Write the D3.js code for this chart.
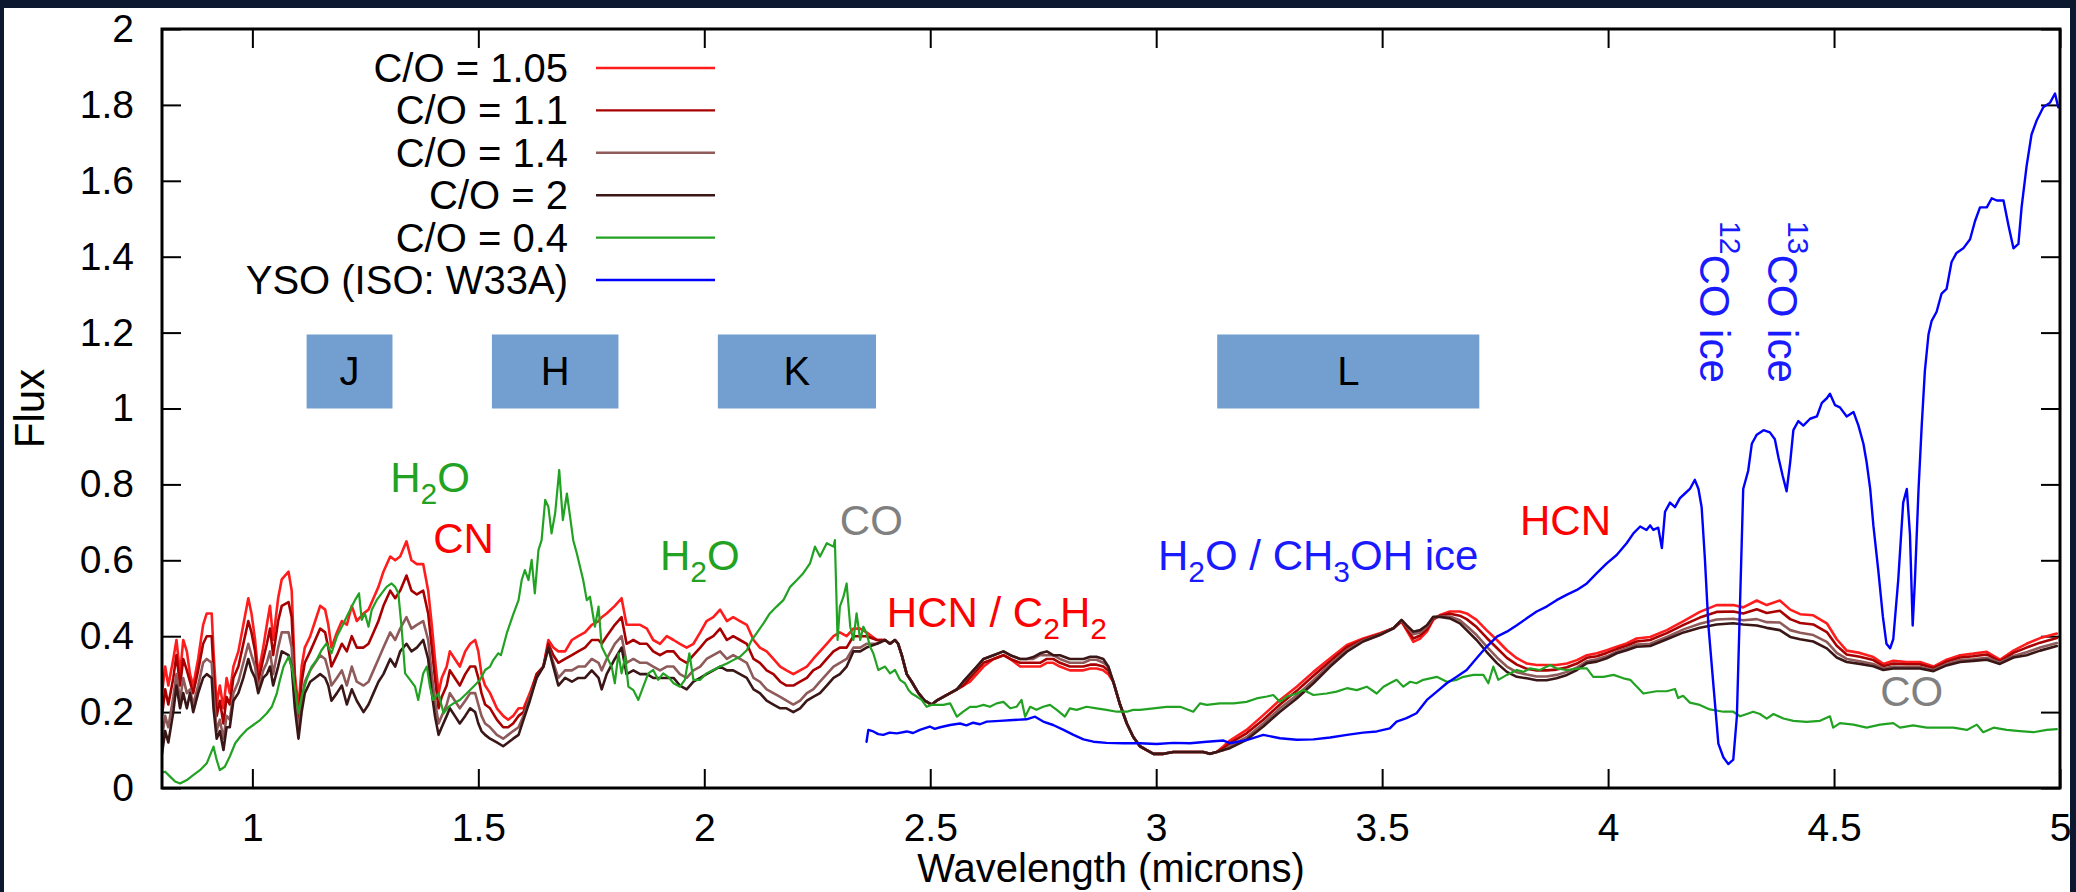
<!DOCTYPE html>
<html><head><meta charset="utf-8">
<script src="https://cdn.jsdelivr.net/npm/d3@7"></script>
<style>
html,body{margin:0;padding:0;background:#fff;}
svg{display:block;}
text{font-family:"Liberation Sans",Arial,Helvetica,sans-serif;}
</style></head><body>
<svg id="chart" width="2076" height="892"></svg>
<script>
// ---------------- DATA ----------------
const modelWave = [
0.80,0.807,0.814,0.825,0.832,0.84,0.847,0.855,0.862,0.869,0.88,0.891,0.899,0.91,0.914,0.921,0.928,0.936,0.943,0.95,0.958,0.969,0.98,0.991,0.998,1.006,1.013,1.024,1.032,1.039,1.046,1.057,1.065,1.08,1.087,1.094,1.102,1.109,1.116,1.128,1.139,1.15,1.161,1.168,1.175,1.187,1.198,1.209,1.22,1.231,1.246,1.257,1.268,1.279,1.29,1.305,1.316,1.327,1.341,1.352,1.364,1.378,1.389,1.397,1.404,1.412,1.419,1.43,1.437,1.448,1.459,1.471,1.482,1.493,1.5,1.507,1.515,1.526,1.541,1.555,1.566,1.577,1.589,
1.600,1.614,1.629,1.644,1.655,1.666,1.677,1.692,1.707,1.721,1.736,1.751,1.766,1.773,1.784,1.802,1.817,1.828,1.843,1.858,1.873,1.887,1.902,1.917,1.932,1.946,1.961,1.976,1.991,2.005,2.020,2.035,2.050,2.064,2.079,2.094,2.109,2.123,2.138,2.153,2.168,2.182,2.197,2.212,2.227,2.241,2.256,2.271,2.286,2.300,2.315,2.330,2.345,2.359,2.382,
2.400,2.411,2.422,2.429,2.437,2.448,2.459,2.474,2.488,2.503,2.514,2.529,2.544,2.559,2.573,2.588,2.603,2.618,2.640,2.662,2.677,2.699,2.713,2.728,2.743,2.758,2.772,2.787,2.809,2.824,2.839,2.854,2.868,2.883,2.894,2.905,2.920,2.935,2.949,2.964,2.979,2.994,3.016,3.038,3.060,3.082,3.104,3.119,3.134,3.149,3.163,
3.200,3.237,3.274,3.311,3.348,3.385,3.422,3.458,3.495,3.525,3.543,3.554,3.569,3.584,3.599,3.613,3.628,3.650,3.672,3.687,3.709,3.731,3.754,3.776,3.798,3.820,3.842,3.864,3.886,3.909,3.931,3.953,3.975,3.997,4.019,4.041,4.063,
4.093,4.130,4.167,4.203,4.240,4.277,4.299,4.329,4.351,4.380,4.403,4.425,4.454,4.484,4.506,4.528,4.557,4.587,4.609,4.631,4.661,4.690,4.720,4.749,4.779,4.808,4.838,4.867,4.897,4.926,4.956,4.993
];

const fluxCO105 = [
0.25,0.32,0.27,0.34,0.39,0.30,0.39,0.36,0.30,0.27, 0.34,0.43,0.46,0.46,0.36,0.22,0.27,0.21,0.29,0.25, 0.32,0.36,0.43,0.50,0.46,0.39,0.30,0.37,0.43,0.48, 0.39,0.50,0.55,0.57,0.52,0.30,0.21,0.32,0.37,0.40, 0.44,0.48,0.47,0.43,0.37,0.41,0.44,0.43,0.48,0.44, 0.46,0.47,0.50,0.53,0.57,0.61,0.60,0.61,0.65,0.60, 0.59,0.59,0.52,0.43,0.34,0.25,0.29,0.32,0.36,0.34, 0.32,0.36,0.38,0.39,0.36,0.30,0.27,0.25,0.21,0.19, 0.18,0.19,0.21,
0.21,0.25,0.30,0.32,0.39,0.37,0.36,0.36,0.39,0.40, 0.41,0.43,0.44,0.45,0.46,0.48,0.50,0.43,0.43,0.43, 0.42,0.39,0.38,0.40,0.39,0.38,0.37,0.38,0.41,0.44, 0.45,0.47,0.44,0.45,0.44,0.43,0.39,0.37,0.36,0.34, 0.32,0.31,0.30,0.31,0.32,0.34,0.36,0.38,0.40,0.41, 0.40,0.42,0.42,0.41,0.39,
0.39,0.38,0.39,0.38,0.35,0.30,0.28,0.25,0.23,0.22, 0.23,0.24,0.25,0.26,0.27,0.28,0.30,0.32,0.34,0.35, 0.34,0.32,0.32,0.32,0.32,0.33,0.33,0.32,0.31,0.31, 0.31,0.315,0.315,0.31,0.30,0.28,0.22,0.17,0.135,0.11, 0.10,0.09,0.09,0.095,0.095,0.095,0.095,0.09,0.095,0.11, 0.125,
0.153,0.192,0.232,0.267,0.306,0.342,0.377,0.394,0.408,0.421, 0.438,0.416,0.385,0.394,0.412,0.443,0.456,0.465,0.465,0.460, 0.443,0.416,0.390,0.363,0.342,0.328,0.324,0.324,0.324,0.328, 0.337,0.350,0.355,0.363,0.372,0.381,0.394,
0.398,0.416,0.44,0.464,0.482,0.482,0.476,0.494,0.482,0.494, 0.47,0.458,0.455,0.434,0.392,0.362,0.356,0.345,0.327,0.335, 0.332,0.332,0.32,0.338,0.35,0.354,0.359,0.338,0.362,0.38, 0.395,0.407
];

const fluxCO11 = [
0.19,0.26,0.22,0.29,0.35,0.27,0.34,0.31,0.28,0.25, 0.31,0.38,0.40,0.40,0.31,0.19,0.23,0.17,0.24,0.22, 0.29,0.32,0.38,0.44,0.41,0.36,0.28,0.34,0.38,0.42, 0.35,0.44,0.48,0.49,0.45,0.27,0.18,0.28,0.33,0.36, 0.39,0.42,0.41,0.37,0.32,0.35,0.38,0.36,0.40,0.37, 0.37,0.38,0.41,0.44,0.48,0.52,0.50,0.52,0.56,0.52, 0.51,0.52,0.46,0.37,0.29,0.21,0.24,0.27,0.31,0.29, 0.27,0.30,0.32,0.32,0.29,0.25,0.22,0.21,0.18,0.16, 0.16,0.17,0.19,
0.20,0.24,0.30,0.32,0.38,0.35,0.33,0.34,0.35,0.36, 0.37,0.39,0.39,0.38,0.40,0.43,0.45,0.38,0.39,0.38, 0.38,0.36,0.35,0.36,0.36,0.34,0.33,0.35,0.37,0.39, 0.40,0.42,0.39,0.40,0.39,0.38,0.34,0.33,0.31,0.30, 0.28,0.27,0.27,0.28,0.29,0.31,0.32,0.34,0.36,0.37, 0.37,0.40,0.40,0.40,0.39,
0.39,0.38,0.39,0.38,0.35,0.30,0.28,0.25,0.23,0.22, 0.23,0.24,0.25,0.26,0.27,0.29,0.31,0.33,0.34,0.35, 0.34,0.33,0.33,0.33,0.33,0.34,0.34,0.33,0.32,0.32, 0.32,0.325,0.325,0.32,0.31,0.28,0.22,0.17,0.135,0.11, 0.10,0.09,0.09,0.095,0.095,0.095,0.095,0.09,0.095,0.105, 0.118,
0.144,0.18,0.22,0.256,0.296,0.334,0.371,0.391,0.406,0.421, 0.44,0.42,0.394,0.402,0.418,0.446,0.454,0.459,0.454,0.445, 0.424,0.396,0.369,0.343,0.325,0.314,0.31,0.31,0.312,0.318, 0.328,0.343,0.347,0.356,0.366,0.375,0.386,
0.39,0.408,0.43,0.449,0.464,0.465,0.46,0.471,0.461,0.467, 0.445,0.435,0.431,0.411,0.375,0.352,0.346,0.337,0.321,0.328, 0.326,0.326,0.316,0.333,0.344,0.347,0.352,0.334,0.356,0.37, 0.383,0.395
];

const fluxCO14 = [
0.13,0.19,0.16,0.24,0.30,0.23,0.29,0.25,0.26,0.22, 0.27,0.33,0.34,0.33,0.25,0.15,0.18,0.13,0.19,0.18, 0.25,0.28,0.33,0.38,0.35,0.32,0.26,0.31,0.33,0.36, 0.30,0.37,0.41,0.41,0.37,0.23,0.15,0.23,0.28,0.31, 0.33,0.35,0.34,0.31,0.27,0.29,0.31,0.27,0.32,0.28, 0.27,0.28,0.31,0.34,0.37,0.41,0.39,0.42,0.45,0.42, 0.43,0.44,0.39,0.30,0.23,0.17,0.19,0.22,0.25,0.23, 0.21,0.23,0.25,0.25,0.22,0.19,0.17,0.16,0.14,0.13, 0.14,0.15,0.16,
0.19,0.24,0.29,0.32,0.37,0.33,0.29,0.31,0.31,0.32, 0.32,0.34,0.33,0.31,0.34,0.38,0.40,0.33,0.34,0.33, 0.33,0.32,0.31,0.32,0.32,0.30,0.29,0.31,0.32,0.34, 0.35,0.36,0.34,0.35,0.34,0.33,0.29,0.28,0.26,0.25, 0.24,0.23,0.22,0.23,0.25,0.26,0.28,0.30,0.32,0.33, 0.34,0.37,0.37,0.38,0.38,
0.39,0.38,0.39,0.38,0.35,0.30,0.28,0.25,0.23,0.22, 0.23,0.24,0.25,0.26,0.28,0.30,0.32,0.34,0.35,0.36, 0.35,0.34,0.34,0.34,0.35,0.35,0.35,0.34,0.33,0.33, 0.33,0.338,0.338,0.33,0.32,0.28,0.22,0.17,0.135,0.11, 0.10,0.09,0.09,0.095,0.095,0.095,0.095,0.09,0.095,0.10, 0.11,
0.134,0.17,0.21,0.244,0.284,0.326,0.364,0.388,0.404,0.421, 0.442,0.426,0.405,0.41,0.425,0.449,0.452,0.452,0.442,0.427, 0.403,0.373,0.344,0.32,0.305,0.299,0.294,0.294,0.298,0.306, 0.318,0.334,0.339,0.347,0.359,0.368,0.378,
0.38,0.398,0.418,0.433,0.444,0.446,0.442,0.445,0.437,0.436, 0.416,0.409,0.403,0.385,0.356,0.34,0.334,0.327,0.315,0.32, 0.319,0.319,0.311,0.327,0.337,0.339,0.343,0.33,0.348,0.358, 0.37,0.382
];

const fluxCO2 = [
0.09,0.15,0.12,0.20,0.27,0.21,0.25,0.21,0.25,0.20, 0.25,0.29,0.30,0.29,0.21,0.13,0.15,0.10,0.16,0.16, 0.23,0.25,0.29,0.34,0.31,0.29,0.25,0.29,0.30,0.32, 0.27,0.32,0.36,0.35,0.32,0.21,0.13,0.20,0.25,0.28, 0.29,0.30,0.29,0.27,0.23,0.25,0.27,0.22,0.26,0.23, 0.20,0.22,0.25,0.28,0.30,0.34,0.32,0.36,0.38,0.36, 0.37,0.39,0.34,0.25,0.19,0.14,0.16,0.19,0.21,0.19, 0.17,0.19,0.21,0.20,0.17,0.15,0.14,0.13,0.12,0.11, 0.12,0.13,0.14,
0.18,0.23,0.29,0.32,0.37,0.32,0.27,0.29,0.28,0.29, 0.29,0.31,0.29,0.26,0.30,0.34,0.37,0.30,0.31,0.30, 0.30,0.29,0.29,0.29,0.29,0.27,0.26,0.28,0.29,0.30, 0.31,0.32,0.31,0.31,0.30,0.29,0.26,0.25,0.23,0.22, 0.21,0.21,0.20,0.21,0.23,0.24,0.25,0.27,0.29,0.30, 0.32,0.36,0.36,0.37,0.38,
0.39,0.38,0.39,0.38,0.35,0.30,0.28,0.25,0.23,0.22, 0.23,0.24,0.25,0.26,0.28,0.30,0.32,0.34,0.35,0.36, 0.35,0.34,0.34,0.345,0.355,0.36,0.35,0.35,0.34,0.34, 0.34,0.346,0.346,0.34,0.32,0.28,0.22,0.17,0.135,0.11, 0.10,0.09,0.09,0.095,0.095,0.095,0.095,0.09,0.095,0.10, 0.105,
0.127,0.162,0.201,0.236,0.276,0.320,0.359,0.386,0.403,0.421, 0.443,0.429,0.412,0.416,0.429,0.451,0.451,0.447,0.434,0.416, 0.390,0.359,0.329,0.306,0.293,0.289,0.284,0.284,0.289,0.298, 0.311,0.329,0.333,0.342,0.355,0.363,0.372,
0.374,0.392,0.41,0.422,0.431,0.434,0.431,0.428,0.422,0.416, 0.398,0.392,0.386,0.368,0.344,0.332,0.327,0.321,0.311,0.315, 0.315,0.315,0.308,0.323,0.332,0.335,0.338,0.327,0.344,0.35, 0.362,0.374
];

// C/O = 0.4 model: [wavelength, flux]
const spectrumCO04 = [
[0.796,0.039],[0.807,0.043],[0.818,0.030],[0.829,0.017],[0.840,0.012],[0.855,0.021],[0.869,0.034],[0.884,0.047],[0.899,0.065],[0.914,0.109],[0.921,0.074],[0.928,0.047],[0.939,0.056],[0.950,0.083],[0.962,0.118],[0.973,0.135],[0.987,0.153],[1.002,0.166],[1.017,0.179],[1.032,0.197],[1.043,0.214],[1.054,0.249],[1.061,0.285],[1.069,0.320],[1.080,0.346],[1.087,0.320],[1.094,0.267],[1.102,0.197],[1.109,0.241],[1.120,0.285],[1.131,0.320],[1.142,0.337],[1.153,0.363],[1.164,0.381],[1.175,0.355],[1.187,0.399],[1.198,0.425],[1.209,0.452],[1.220,0.478],[1.227,0.495],[1.236,0.513],[1.242,0.443],[1.249,0.460],[1.257,0.425],[1.264,0.469],[1.275,0.495],[1.286,0.513],[1.297,0.530],[1.308,0.539],[1.316,0.530],[1.323,0.513],[1.330,0.425],[1.338,0.302],[1.349,0.285],[1.360,0.267],[1.367,0.232],[1.378,0.302],[1.386,0.320],[1.393,0.267],[1.400,0.232],[1.412,0.249],[1.423,0.197],[1.434,0.214],[1.445,0.223],[1.459,0.232],[1.474,0.249],[1.489,0.267],[1.504,0.285],[1.515,0.311],[1.526,0.320],[1.533,0.337],[1.544,0.355],[1.550,0.350],
[1.563,0.408],[1.578,0.460],[1.589,0.495],[1.596,0.548],[1.603,0.574],[1.611,0.548],[1.618,0.601],[1.625,0.513],[1.633,0.627],[1.640,0.653],[1.648,0.759],[1.655,0.741],[1.662,0.671],[1.670,0.724],[1.679,0.838],[1.687,0.706],[1.696,0.776],[1.703,0.715],[1.710,0.653],[1.718,0.618],[1.725,0.583],[1.732,0.548],[1.740,0.495],[1.747,0.504],[1.758,0.425],[1.766,0.478],[1.773,0.372],[1.784,0.346],[1.795,0.320],[1.802,0.276],[1.810,0.355],[1.817,0.302],[1.825,0.346],[1.832,0.267],[1.843,0.258],[1.854,0.232],[1.865,0.267],[1.876,0.302],[1.887,0.311],[1.898,0.285],[1.909,0.302],[1.920,0.293],[1.932,0.276],[1.946,0.267],[1.957,0.285],[1.967,0.355],[1.976,0.285],[1.991,0.285],[2.005,0.302],[2.020,0.311],[2.035,0.320],[2.050,0.328],[2.064,0.337],[2.079,0.346],[2.094,0.363],[2.105,0.390],[2.116,0.408],[2.131,0.434],[2.145,0.460],[2.160,0.478],[2.175,0.495],[2.190,0.530],[2.205,0.548],[2.219,0.566],[2.234,0.592],[2.245,0.636],[2.256,0.610],[2.271,0.645],[2.286,0.636],[2.289,0.653],[2.295,0.390],[2.300,0.478],[2.308,0.504],[2.315,0.539],[2.323,0.425],[2.330,0.390],[2.337,0.460],[2.345,0.390],[2.352,0.425],[2.359,0.408],[2.367,0.372],[2.374,0.355],[2.385,0.311],
[2.400,0.320],[2.411,0.302],[2.422,0.311],[2.433,0.285],[2.444,0.276],[2.452,0.258],[2.459,0.249],[2.470,0.241],[2.481,0.232],[2.492,0.214],[2.503,0.219],[2.514,0.219],[2.529,0.219],[2.544,0.223],[2.559,0.188],[2.573,0.201],[2.588,0.214],[2.603,0.214],[2.618,0.219],[2.632,0.214],[2.647,0.223],[2.662,0.227],[2.677,0.210],[2.691,0.214],[2.702,0.232],[2.710,0.188],[2.721,0.214],[2.735,0.206],[2.750,0.214],[2.765,0.219],[2.780,0.206],[2.798,0.188],[2.809,0.210],[2.824,0.206],[2.846,0.214],[2.868,0.210],[2.890,0.206],[2.913,0.201],[2.935,0.201],[2.949,0.206],[2.964,0.206],[2.994,0.210],[3.023,0.214],[3.053,0.214],[3.082,0.201],[3.097,0.223],[3.112,0.219],[3.141,0.223],[3.171,0.223],[3.200,0.227],
[3.222,0.236],[3.245,0.241],[3.259,0.245],[3.274,0.227],[3.289,0.241],[3.311,0.249],[3.326,0.258],[3.348,0.245],[3.377,0.249],[3.399,0.254],[3.422,0.263],[3.444,0.258],[3.466,0.267],[3.488,0.249],[3.503,0.267],[3.517,0.276],[3.532,0.285],[3.547,0.267],[3.562,0.280],[3.576,0.276],[3.591,0.285],[3.606,0.289],[3.621,0.293],[3.643,0.280],[3.665,0.285],[3.680,0.293],[3.702,0.298],[3.724,0.298],[3.735,0.276],[3.746,0.320],[3.757,0.285],[3.776,0.298],[3.798,0.311],[3.813,0.306],[3.827,0.315],[3.849,0.311],[3.872,0.324],[3.886,0.315],[3.908,0.311],[3.938,0.315],[3.953,0.315],[3.967,0.293],[3.990,0.293],[4.012,0.298],[4.034,0.289],[4.049,0.285],[4.078,0.249],
[4.107,0.255],[4.130,0.255],[4.148,0.261],[4.155,0.237],[4.166,0.243],[4.181,0.225],[4.203,0.219],[4.225,0.207],[4.255,0.201],[4.277,0.201],[4.292,0.189],[4.307,0.195],[4.321,0.201],[4.336,0.195],[4.351,0.183],[4.366,0.195],[4.388,0.183],[4.410,0.177],[4.439,0.174],[4.469,0.177],[4.491,0.189],[4.498,0.159],[4.513,0.171],[4.543,0.167],[4.572,0.159],[4.602,0.167],[4.631,0.171],[4.646,0.159],[4.675,0.165],[4.705,0.159],[4.735,0.159],[4.764,0.159],[4.794,0.153],[4.816,0.167],[4.830,0.147],[4.853,0.159],[4.882,0.153],[4.911,0.150],[4.941,0.147],[4.971,0.153],[4.993,0.155]
];

// YSO (ISO: W33A): [wavelength, flux]
const spectrumW33A = [
[2.359,0.122],[2.363,0.153],[2.374,0.149],[2.385,0.142],[2.396,0.140],[2.410,0.146],[2.426,0.144],[2.448,0.149],[2.462,0.145],[2.477,0.153],[2.499,0.162],[2.510,0.156],[2.522,0.160],[2.544,0.166],[2.566,0.170],[2.580,0.165],[2.595,0.172],[2.610,0.168],[2.625,0.175],[2.654,0.177],[2.684,0.179],[2.713,0.181],[2.732,0.188],[2.750,0.175],[2.772,0.166],[2.795,0.153],[2.817,0.140],[2.839,0.128],[2.861,0.122],[2.890,0.119],[2.927,0.118],[2.964,0.118],[3.001,0.116],[3.038,0.119],[3.075,0.118],[3.112,0.122],[3.149,0.125],[3.163,0.118],
[3.200,0.126],[3.237,0.140],[3.274,0.131],[3.311,0.127],[3.348,0.128],[3.385,0.133],[3.422,0.140],[3.458,0.146],[3.488,0.149],[3.517,0.157],[3.532,0.175],[3.554,0.184],[3.576,0.197],[3.599,0.232],[3.621,0.254],[3.643,0.276],[3.665,0.293],[3.687,0.311],[3.709,0.342],[3.731,0.372],[3.754,0.399],[3.776,0.412],[3.798,0.429],[3.820,0.447],[3.842,0.465],[3.864,0.478],[3.886,0.495],[3.908,0.509],[3.931,0.522],[3.953,0.539],[3.975,0.566],[3.997,0.592],[4.019,0.614],[4.041,0.645],[4.056,0.671],[4.071,0.689],[4.085,0.680],
[4.093,0.692],[4.100,0.680],[4.111,0.686],[4.119,0.632],[4.126,0.728],[4.137,0.752],[4.148,0.740],[4.159,0.764],[4.170,0.776],[4.181,0.788],[4.192,0.812],[4.200,0.788],[4.207,0.740],[4.214,0.608],[4.222,0.428],[4.233,0.272],[4.244,0.117],[4.255,0.081],[4.266,0.063],[4.277,0.075],[4.285,0.189],[4.292,0.488],[4.299,0.788],[4.310,0.836],[4.318,0.907],[4.329,0.931],[4.344,0.943],[4.358,0.937],[4.369,0.919],[4.377,0.871],[4.386,0.824],[4.395,0.782],[4.403,0.859],[4.410,0.943],[4.421,0.967],[4.432,0.955],[4.447,0.973],[4.462,0.979],[4.473,1.015],[4.484,1.027],[4.491,1.039],[4.502,1.009],[4.513,1.003],[4.528,0.979],[4.543,0.991],[4.554,0.955],[4.565,0.907],[4.572,0.859],[4.580,0.788],[4.587,0.692],[4.598,0.572],[4.608,0.452],[4.616,0.380],[4.624,0.368],[4.631,0.392],[4.642,0.548],[4.653,0.752],[4.661,0.788],[4.668,0.668],[4.674,0.428],[4.679,0.548],[4.687,0.788],[4.694,0.955],[4.701,1.099],[4.709,1.195],[4.716,1.231],[4.727,1.255],[4.738,1.303],[4.749,1.315],[4.760,1.386],[4.771,1.410],[4.786,1.422],[4.801,1.446],[4.812,1.494],[4.823,1.530],[4.838,1.530],[4.849,1.554],[4.860,1.548],[4.875,1.548],[4.886,1.482],[4.897,1.422],[4.908,1.434],[4.915,1.530],[4.926,1.638],[4.937,1.722],[4.948,1.758],[4.963,1.794],[4.978,1.806],[4.989,1.830],[4.996,1.794]
];

const seriesNames = ["C/O = 1.05","C/O = 1.1","C/O = 1.4","C/O = 2","C/O = 0.4","YSO (ISO: W33A)"];
const seriesColors = ["#ff1c1c","#a80000","#8e5a5a","#3a1616","#22a222","#0000ff"];

const bandNames = ["J","H","K","L"];
const bandStart = [1.12,1.53,2.03,3.135];
const bandEnd   = [1.31,1.81,2.38,3.715];
const bandFluxLow = 1.0, bandFluxHigh = 1.195;

const xTickValues = [1,1.5,2,2.5,3,3.5,4,4.5,5];
const yTickValues = [0,0.2,0.4,0.6,0.8,1,1.2,1.4,1.6,1.8,2];

// ---------------- CHART ----------------
const svg = d3.select("#chart");
const W = 2076, H = 892;
const plot = {left:162, right:2060, top:29, bottom:788};
const x = d3.scaleLinear().domain([0.8,5]).range([plot.left, plot.right]);
const y = d3.scaleLinear().domain([0,2]).range([plot.bottom, plot.top]);

svg.append("rect").attr("width",W).attr("height",H).attr("fill","#fff");

svg.append("defs").append("clipPath").attr("id","clip")
  .append("rect").attr("x",plot.left).attr("y",plot.top)
  .attr("width",plot.right-plot.left).attr("height",plot.bottom-plot.top);

// band boxes
const bands = svg.append("g");
bandNames.forEach((b,i)=>{
  bands.append("rect")
    .attr("x",x(bandStart[i])).attr("y",y(bandFluxHigh))
    .attr("width",x(bandEnd[i])-x(bandStart[i]))
    .attr("height",y(bandFluxLow)-y(bandFluxHigh))
    .attr("fill","#729fcf");
  bands.append("text")
    .attr("x",(x(bandStart[i])+x(bandEnd[i]))/2)
    .attr("y",(y(bandFluxLow)+y(bandFluxHigh))/2)
    .attr("text-anchor","middle").attr("dominant-baseline","central")
    .attr("font-size",40).attr("fill","#000").text(b);
});

// axes with inward ticks on all sides
const fmt = d => String(+(+d).toFixed(1));
const styleAxis = g => {
  g.select(".domain").remove();
  g.selectAll(".tick line").attr("stroke","#000").attr("stroke-width",2);
  g.selectAll(".tick text").attr("font-size",39).attr("fill","#000")
    .style("font-family",'"Liberation Sans",Arial,sans-serif');
};
svg.append("g").attr("transform",`translate(0,${plot.bottom})`)
  .call(d3.axisBottom(x).tickValues(xTickValues).tickSize(-19).tickPadding(25).tickFormat(fmt))
  .call(styleAxis);
svg.append("g").attr("transform",`translate(0,${plot.top})`)
  .call(d3.axisTop(x).tickValues(xTickValues).tickSize(-19).tickFormat(""))
  .call(styleAxis);
svg.append("g").attr("transform",`translate(${plot.left},0)`)
  .call(d3.axisLeft(y).tickValues(yTickValues).tickSize(-19).tickPadding(28).tickFormat(fmt))
  .call(styleAxis);
svg.append("g").attr("transform",`translate(${plot.right},0)`)
  .call(d3.axisRight(y).tickValues(yTickValues).tickSize(-19).tickFormat(""))
  .call(styleAxis);

// lines
const line = d3.line().x(d=>x(d[0])).y(d=>y(d[1]));
const seriesData = [
  d3.zip(modelWave, fluxCO105),
  d3.zip(modelWave, fluxCO11),
  d3.zip(modelWave, fluxCO14),
  d3.zip(modelWave, fluxCO2),
  spectrumCO04,
  spectrumW33A
];
const widths = [2.6,2.6,2.6,2.6,2.2,2.4];
const lines = svg.append("g").attr("clip-path","url(#clip)");
seriesData.forEach((data,i)=>{
  lines.append("path").datum(data)
    .attr("d",line).attr("fill","none")
    .attr("stroke",seriesColors[i]).attr("stroke-width",widths[i])
    .attr("stroke-linejoin","round").attr("stroke-linecap","round");
});

// border
svg.append("rect").attr("x",plot.left).attr("y",plot.top)
  .attr("width",plot.right-plot.left).attr("height",plot.bottom-plot.top)
  .attr("fill","none").attr("stroke","#000").attr("stroke-width",3);

// legend
const leg = svg.append("g");
seriesNames.forEach((n,i)=>{
  const ly = 68 + i*42.4;
  leg.append("text").attr("x",568).attr("y",ly).attr("text-anchor","end")
    .attr("dominant-baseline","central").attr("font-size",40).attr("fill","#000").text(n);
  leg.append("line").attr("x1",596).attr("x2",715).attr("y1",ly).attr("y2",ly)
    .attr("stroke",seriesColors[i]).attr("stroke-width",2.4);
});

// axis titles
svg.append("text").attr("transform",`translate(29,${(plot.top+plot.bottom)/2}) rotate(-90)`)
  .attr("text-anchor","middle").attr("dominant-baseline","central")
  .attr("font-size",42).attr("fill","#000").text("Flux");
svg.append("text").attr("x",(plot.left+plot.right)/2).attr("y",882)
  .attr("text-anchor","middle").attr("font-size",40).attr("fill","#000").text("Wavelength (microns)");

// annotations: parts are [text, shift] where shift: 0 normal, 1 subscript, -1 superscript
const annotations = [
  {wl:1.305, f:0.780, color:"#22a222", parts:[["H",0],["2",1],["O",0]]},
  {wl:1.400, f:0.619, color:"#ff0000", parts:[["CN",0]]},
  {wl:1.902, f:0.574, color:"#22a222", parts:[["H",0],["2",1],["O",0]]},
  {wl:2.300, f:0.667, color:"#808080", parts:[["CO",0]]},
  {wl:2.404, f:0.424, color:"#ff0000", parts:[["HCN / C",0],["2",1],["H",0],["2",1]]},
  {wl:3.004, f:0.574, color:"#1a1aff", parts:[["H",0],["2",1],["O / CH",0],["3",1],["OH ice",0]]},
  {wl:3.805, f:0.667, color:"#ff0000", parts:[["HCN",0]]},
  {wl:4.602, f:0.216, color:"#808080", parts:[["CO",0]]}
];
const rotatedNotes = [
  {wl:4.203, f:1.494, color:"#1a1aff", parts:[["12",-1],["CO ice",0]]},
  {wl:4.354, f:1.494, color:"#1a1aff", parts:[["13",-1],["CO ice",0]]}
];
function addParts(t, parts){
  let cur = 0;
  parts.forEach(([s,shift])=>{
    const target = shift===1 ? 12 : shift===-1 ? -20 : 0;
    t.append("tspan").attr("dy", target-cur)
      .attr("font-size", shift===0 ? 42 : 30).text(s);
    cur = target;
  });
}
annotations.forEach(a=>{
  const t = svg.append("text").attr("x",x(a.wl)).attr("y",y(a.f))
    .attr("fill",a.color).attr("font-size",42);
  addParts(t,a.parts);
});
rotatedNotes.forEach(a=>{
  const t = svg.append("text")
    .attr("transform",`translate(${x(a.wl)},${y(a.f)}) rotate(90)`)
    .attr("fill",a.color).attr("font-size",42);
  addParts(t,a.parts);
});

// dark frame strips at the picture edges
svg.append("rect").attr("x",0).attr("y",0).attr("width",W).attr("height",8).attr("fill","#0c1830");
svg.append("rect").attr("x",0).attr("y",0).attr("width",4).attr("height",H).attr("fill","#0c1830");
svg.append("rect").attr("x",2070).attr("y",0).attr("width",6).attr("height",H).attr("fill","#0c1830");
</script>
</body></html>
